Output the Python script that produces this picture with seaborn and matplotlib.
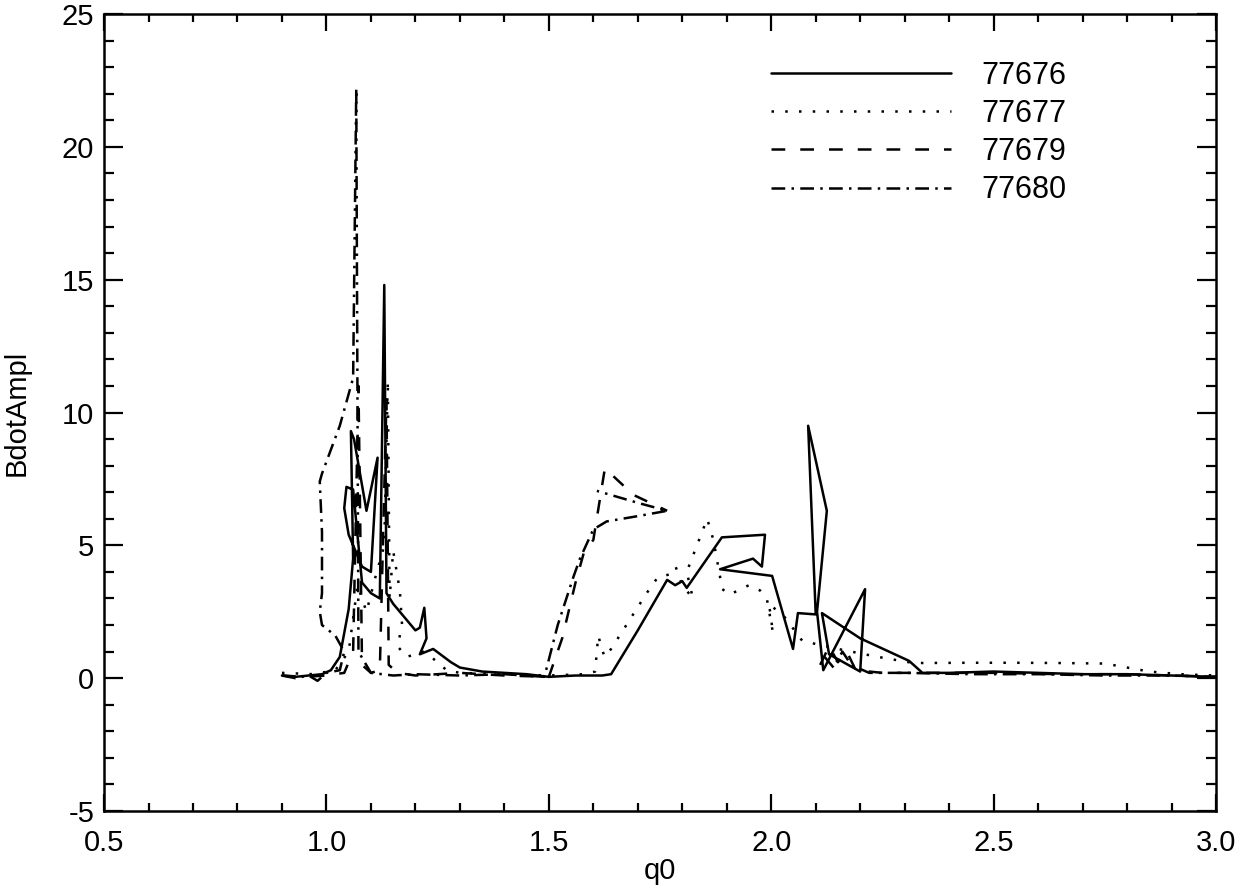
import matplotlib
matplotlib.use("Agg")
import matplotlib.pyplot as plt
from matplotlib.ticker import MultipleLocator, FormatStrFormatter
import seaborn as sns
import numpy as np
import pandas as pd

# shot numbers (legend order)
shots = ["77676", "77677", "77679", "77680"]

# 77676 (solid)
q_76 = [0.90, 0.93, 0.96, 0.99, 1.01, 1.03, 1.05, 1.06, 1.055, 1.062, 1.09, 1.115,
        1.10, 1.08, 1.05, 1.04, 1.045, 1.06, 1.08, 1.10, 1.12, 1.13, 1.135, 1.15,
        1.18, 1.20, 1.21, 1.22, 1.225, 1.21, 1.24, 1.28, 1.30, 1.35, 1.40, 1.45,
        1.50, 1.56, 1.62, 1.64, 1.70, 1.766, 1.784, 1.80, 1.81, 1.889, 1.986,
        1.979, 1.959, 1.885, 2.002, 2.049, 2.06, 2.10, 2.083, 2.125, 2.103, 2.117,
        2.211, 2.20, 2.13, 2.114, 2.20, 2.31, 2.34, 2.40, 2.50, 2.60, 2.70, 2.80,
        2.90, 3.00]
a_76 = [0.10, 0.05, 0.10, 0.15, 0.30, 0.80, 2.60, 4.50, 9.30, 9.00, 6.30, 8.30,
        4.00, 4.20, 5.40, 6.40, 7.20, 7.10, 3.60, 3.20, 3.00, 14.80, 3.20, 2.80,
        2.20, 1.80, 1.90, 2.65, 1.50, 0.90, 1.10, 0.60, 0.40, 0.25, 0.20, 0.15,
        0.05, 0.10, 0.10, 0.15, 1.80, 3.70, 3.50, 3.65, 3.40, 5.30, 5.40,
        4.20, 4.50, 4.10, 3.85, 1.10, 2.45, 2.40, 9.50, 6.30, 2.50, 0.30,
        3.35, 0.25, 0.90, 2.45, 1.50, 0.65, 0.20, 0.20, 0.25, 0.20, 0.15, 0.15,
        0.10, 0.05]

# 77677 (dotted)
q_77 = [0.90, 0.97, 1.02, 1.05, 1.07, 1.09, 1.11, 1.13, 1.138, 1.142, 1.15,
        1.165, 1.17, 1.16, 1.18, 1.22, 1.25, 1.27, 1.30, 1.40, 1.50, 1.58,
        1.604, 1.611, 1.625, 1.64, 1.72, 1.745, 1.77, 1.785, 1.80, 1.824, 1.81,
        1.856, 1.87, 1.89, 1.907, 1.95, 1.975, 1.99, 2.004, 1.995, 2.03, 2.07,
        2.15, 2.24, 2.32, 2.45, 2.55, 2.65, 2.75, 2.80, 2.85, 2.92, 3.00]
a_77 = [0.20, 0.15, 0.30, 1.00, 3.50, 2.50, 3.80, 5.00, 11.20, 3.00, 4.80,
        3.30, 2.00, 1.20, 0.80, 1.00, 0.60, 0.30, 0.20, 0.15, 0.10, 0.15,
        0.25, 1.60, 0.80, 1.10, 3.20, 3.80, 3.90, 4.20, 3.50, 3.00, 4.00,
        6.00, 5.20, 3.35, 3.15, 3.50, 3.30, 3.00, 1.70, 2.80, 2.30, 1.40,
        1.10, 0.80, 0.57, 0.58, 0.58, 0.57, 0.55, 0.40, 0.25, 0.15, 0.10]

# 77679 (dashed), two pieces
q_79a = [0.90, 0.95, 1.00, 1.04, 1.06, 1.072, 1.08, 1.10, 1.12, 1.135, 1.14,
         1.16, 1.20, 1.30, 1.40, 1.50, 1.53, 1.56, 1.58, 1.60, 1.626, 1.69, 1.766]
a_79a = [0.10, 0.05, 0.10, 0.20, 1.00, 11.00, 0.50, 0.20, 0.30, 10.50, 0.50,
         0.20, 0.10, 0.20, 0.10, 0.05, 1.50, 3.60, 4.80, 5.20, 7.90, 6.90, 6.30]
q_79b = [2.11, 2.13, 2.15, 2.17, 2.19, 2.25, 2.35, 2.50, 2.65, 2.80, 2.90, 3.00]
a_79b = [0.50, 1.20, 0.60, 1.00, 0.30, 0.20, 0.20, 0.20, 0.15, 0.15, 0.10, 0.05]

# 77680 (dash-dot), two pieces
q_80a = [0.90, 0.93, 0.96, 0.98, 0.99, 1.00, 1.03, 1.04, 1.02, 0.99, 0.985,
         0.99, 0.99, 0.985, 0.99, 1.03, 1.06, 1.067, 1.072, 1.10, 1.15, 1.20,
         1.30, 1.40, 1.49, 1.52, 1.555, 1.57, 1.60, 1.63, 1.70, 1.766, 1.70, 1.608]
a_80a = [0.10, 0.00, 0.10, -0.10, 0.05, 0.20, 0.30, 1.00, 1.60, 2.00, 2.50,
         3.20, 5.50, 7.40, 7.70, 9.50, 11.30, 22.20, 1.00, 0.20, 0.10, 0.15,
         0.10, 0.15, 0.05, 2.00, 3.80, 4.50, 5.60, 5.90, 6.10, 6.30, 6.60, 7.05]
q_80b = [2.12, 2.14, 2.16, 2.18, 2.22, 2.30, 2.45, 2.60, 2.75, 2.90, 3.00]
a_80b = [0.80, 0.40, 1.00, 0.50, 0.20, 0.20, 0.15, 0.15, 0.10, 0.10, 0.05]

pieces = [
    ("77676", "a", q_76, a_76),
    ("77677", "a", q_77, a_77),
    ("77679", "a", q_79a, a_79a),
    ("77679", "b", q_79b, a_79b),
    ("77680", "a", q_80a, a_80a),
    ("77680", "b", q_80b, a_80b),
]
frames = []
for shot, part, q, a in pieces:
    frames.append(pd.DataFrame({"q0": q, "BdotAmpl": a, "shot": shot, "seg": shot + part}))
df = pd.concat(frames, ignore_index=True)

sns.set_style("ticks")
plt.rcParams["font.family"] = ["Liberation Sans", "DejaVu Sans"]
plt.rcParams["axes.unicode_minus"] = False
plt.rcParams["text.color"] = "black"
plt.rcParams["axes.labelcolor"] = "black"
plt.rcParams["xtick.color"] = "black"
plt.rcParams["ytick.color"] = "black"

fig = plt.figure(figsize=(12.49, 8.92), dpi=100)
ax = fig.add_axes([0.0833, 0.0908, 0.8903, 0.8935])

dash_map = {"77676": "", "77677": (1, 4.5), "77679": (5.5, 6), "77680": (5.5, 2.5, 1, 2.5)}
sns.lineplot(data=df, x="q0", y="BdotAmpl", style="shot", style_order=shots,
             units="seg", estimator=None, sort=False, dashes=dash_map,
             color="black", linewidth=1.8, ax=ax)

ax.xaxis.set_major_locator(MultipleLocator(0.5))
ax.xaxis.set_minor_locator(MultipleLocator(0.1))
ax.xaxis.set_major_formatter(FormatStrFormatter("%.1f"))
ax.yaxis.set_major_locator(MultipleLocator(5))
ax.yaxis.set_minor_locator(MultipleLocator(1))
ax.set_xlim(0.5, 3.0)
ax.set_ylim(-5, 25)
ax.tick_params(which="both", direction="in", top=True, right=True, width=1.6,
               labelsize=21, color="black", labelcolor="black")
ax.tick_params(axis="y", which="major", length=14, pad=7)
ax.tick_params(axis="y", which="minor", length=7)
ax.tick_params(axis="x", which="major", length=12, pad=13)
ax.tick_params(axis="x", which="minor", length=6)
for sp in ax.spines.values():
    sp.set_linewidth(1.8)
    sp.set_color("black")

ax.set_xlabel("q0", fontsize=21)
ax.set_ylabel("BdotAmpl", fontsize=21)
ax.xaxis.set_label_coords(0.5, -0.058)
ax.yaxis.set_label_coords(-0.066, 0.5)

leg = ax.legend(loc="upper left", bbox_to_anchor=(0.575, 0.976), frameon=False,
                fontsize=22, handlelength=5.9, handletextpad=1.0, labelspacing=0.27)
for line in leg.get_lines():
    line.set_linewidth(1.8)

fig.savefig("out.png", dpi=100, facecolor="white")
